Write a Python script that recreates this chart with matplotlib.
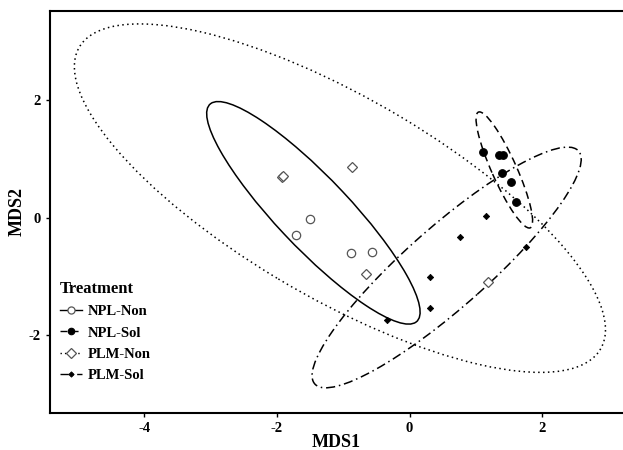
import matplotlib
matplotlib.use("Agg")
import matplotlib.pyplot as plt
from matplotlib.patches import Ellipse
from matplotlib.lines import Line2D
import numpy as np

plt.rcParams['font.family'] = ['Liberation Serif', 'DejaVu Serif']
plt.rcParams['font.weight'] = 'bold'

# Data
groups = ["NPL-Non", "NPL-Sol", "PLM-Non", "PLM-Sol"]
npl_non_x = [-1.50, -1.71, -0.89, -0.57]
npl_non_y = [-0.03, -0.30, -0.60, -0.59]
npl_sol_x = [1.11, 1.35, 1.41, 1.40, 1.53, 1.61]
npl_sol_y = [1.11, 1.06, 1.06, 0.76, 0.60, 0.26]
plm_non_x = [-1.92, -1.91, -0.87, -0.66, 1.18]
plm_non_y = [0.69, 0.70, 0.86, -0.96, -1.10]
plm_sol_x = [1.16, 0.76, 1.76, 0.31, 0.31, -0.34]
plm_sol_y = [0.03, -0.33, -0.50, -1.01, -1.54, -1.75]

# Ellipse parameters (centre x, centre y, semi-major, semi-minor, angle deg)
ell_cx = [-1.45, 1.43, -1.05, 0.56]
ell_cy = [0.08, 0.81, 0.33, -0.85]
ell_a = [2.42, 1.06, 4.70, 2.81]
ell_b = [0.57, 0.19, 1.66, 0.65]
ell_ang = [-50.2, -68.5, -34.0, 45.3]

xticks = [-4, -2, 0, 2]
yticks = [-2, 0, 2]

styles = {
    "NPL-Non": dict(ls='-', marker='o', mfc='white', mec='#555555', ms=6, mew=0.9),
    "NPL-Sol": dict(ls=(0, (5, 3)), marker='o', mfc='black', mec='black', ms=5.5, mew=0.8),
    "PLM-Non": dict(ls=(0, (1, 2.2)), marker='D', mfc='white', mec='#555555', ms=5.5, mew=0.9),
    "PLM-Sol": dict(ls=(0, (6, 2.5, 1, 2.5)), marker='D', mfc='black', mec='black', ms=3.2, mew=0.6),
}
xs = [npl_non_x, npl_sol_x, plm_non_x, plm_sol_x]
ys = [npl_non_y, npl_sol_y, plm_non_y, plm_sol_y]

fig = plt.figure(figsize=(6.23, 4.5), dpi=100)
ax = fig.add_axes([0.0795, 0.082, 0.9205, 0.894])

for i, g in enumerate(groups):
    st = styles[g]
    e = Ellipse((ell_cx[i], ell_cy[i]), 2 * ell_a[i], 2 * ell_b[i], angle=ell_ang[i],
                fill=False, edgecolor='black', lw=1.1, linestyle=st['ls'])
    ax.add_patch(e)
    ax.plot(xs[i], ys[i], linestyle='none', marker=st['marker'], mfc=st['mfc'],
            mec=st['mec'], ms=st['ms'], mew=st['mew'])

ax.set_xlim(-5.43, 3.22)
ax.set_ylim(-3.33, 3.52)
ax.set_xticks(xticks)
ax.set_yticks(yticks)
ax.set_xticklabels([str(t) for t in xticks], fontsize=10.5, fontweight='bold')
ax.set_yticklabels([str(t) for t in yticks], fontsize=10.5, fontweight='bold')
ax.tick_params(direction='out', length=3, width=1, pad=3.5)
for s in ['left', 'top', 'bottom']:
    ax.spines[s].set_linewidth(1.5)
ax.spines['right'].set_visible(False)
ax.set_xlabel("MDS1", fontsize=13, fontweight='bold', labelpad=-1)
ax.set_ylabel("MDS2", fontsize=13, fontweight='bold', labelpad=2)

handles = []
for g in groups:
    st = styles[g]
    handles.append(Line2D([0], [0], color='black', lw=1.0, linestyle=st['ls'],
                          marker=st['marker'], mfc=st['mfc'], mec=st['mec'],
                          ms=st['ms'] * 0.85, mew=st['mew']))
leg = ax.legend(handles, groups, loc='lower left', bbox_to_anchor=(0.0, 0.052),
                frameon=False, title="Treatment", handlelength=1.5, handletextpad=0.4,
                labelspacing=0.55, prop={'weight': 'bold', 'size': 10.5},
                title_fontproperties={'weight': 'bold', 'size': 12}, borderaxespad=0.3)
leg._legend_box.align = "left"

fig.savefig("out.png", dpi=100)
